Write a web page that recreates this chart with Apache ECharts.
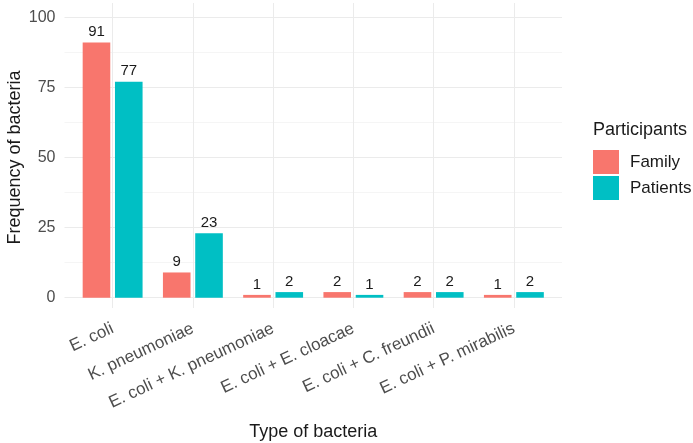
<!DOCTYPE html>
<html>
<head>
<meta charset="utf-8">
<script src="https://cdn.jsdelivr.net/npm/echarts@6/dist/echarts.min.js"></script>
<style>
html,body{margin:0;padding:0;background:#fff;}
#chart{width:693px;height:443px;}
</style>
</head>
<body>
<div id="chart"></div>
<script>
var categories = ['E. coli', 'K. pneumoniae', 'E. coli + K. pneumoniae', 'E. coli + E. cloacae', 'E. coli + C. freundii', 'E. coli + P. mirabilis'];
var familyValues = [91, 9, 1, 2, 2, 1];
var patientValues = [77, 23, 2, 1, 2, 2];
var seriesNames = ['Family', 'Patients'];
var yTicks = [0, 25, 50, 75, 100];

var FONT = '"Liberation Sans", Arial, sans-serif';
var GRID_COLOR = '#ebebeb';
var chart = echarts.init(document.getElementById('chart'), null, {renderer: 'canvas'});

function barLabel() {
  return {
    show: true,
    position: 'top',
    distance: 3,
    color: '#1a1a1a',
    fontSize: 15,
    fontFamily: FONT
  };
}

chart.setOption({
  backgroundColor: '#ffffff',
  animation: false,
  textStyle: {fontFamily: FONT},
  title: {
    text: 'Participants',
    left: 588,
    top: 116,
    textStyle: {fontSize: 18, fontWeight: 'normal', color: '#1a1a1a', fontFamily: FONT}
  },
  legend: {
    orient: 'vertical',
    left: 588,
    top: 145,
    itemWidth: 26,
    itemHeight: 24,
    itemGap: 2,
    icon: 'rect',
    data: seriesNames,
    textStyle: {fontSize: 17, color: '#1a1a1a', fontFamily: FONT, padding: [0, 0, 0, 6]}
  },
  grid: [
    // main plotting grid (bars, labels, axis texts)
    {left: 72.5, right: 139, top: 17.3, bottom: 145.3, containLabel: false, outerBoundsMode: 'none'},
    // vertical gridlines, extending over the full panel height
    {left: 72.5, right: 139, top: 3, bottom: 135, containLabel: false, outerBoundsMode: 'none'},
    // horizontal gridlines, extending over the full panel width
    {left: 64.5, right: 131, top: 17.3, bottom: 145.3, containLabel: false, outerBoundsMode: 'none'}
  ],
  xAxis: [
    {
      gridIndex: 0,
      type: 'category',
      data: categories,
      name: 'Type of bacteria',
      nameLocation: 'middle',
      nameGap: 125,
      nameTextStyle: {fontSize: 18, color: '#1a1a1a', fontFamily: FONT},
      axisLine: {show: false},
      axisTick: {show: false},
      axisLabel: {
        rotate: 25,
        margin: 30,
        fontSize: 17,
        color: '#4d4d4d',
        fontFamily: FONT,
        interval: 0
      },
      splitLine: {show: false}
    },
    {
      gridIndex: 1,
      type: 'category',
      data: categories,
      axisLine: {show: false},
      axisTick: {show: false, interval: 0},
      axisLabel: {show: false, interval: 0},
      splitLine: {show: true, interval: 0, alignWithLabel: true, lineStyle: {color: GRID_COLOR, width: 1}}
    },
    {
      gridIndex: 2,
      type: 'value',
      min: 0,
      max: 1,
      show: false,
      splitLine: {show: false}
    }
  ],
  yAxis: [
    {
      gridIndex: 0,
      type: 'value',
      min: 0,
      max: 100,
      interval: 25,
      name: 'Frequency of bacteria',
      nameLocation: 'middle',
      nameGap: 48,
      nameMoveOverlap: false,
      nameTextStyle: {fontSize: 18, color: '#1a1a1a', fontFamily: FONT},
      axisLine: {show: false},
      axisTick: {show: false},
      axisLabel: {
        margin: 17,
        fontSize: 16,
        color: '#4d4d4d',
        fontFamily: FONT
      },
      splitLine: {show: false}
    },
    {
      gridIndex: 1,
      type: 'value',
      min: 0,
      max: 1,
      show: false,
      splitLine: {show: false}
    },
    {
      gridIndex: 2,
      type: 'value',
      min: 0,
      max: 100,
      interval: 25,
      axisLine: {show: false},
      axisTick: {show: false},
      axisLabel: {show: false},
      splitLine: {show: true, lineStyle: {color: GRID_COLOR, width: 1}},
      minorTick: {show: false, splitNumber: 2},
      minorSplitLine: {show: true, lineStyle: {color: '#f2f2f2', width: 0.8}}
    }
  ],
  series: [
    {
      name: seriesNames[0],
      type: 'bar',
      xAxisIndex: 0,
      yAxisIndex: 0,
      data: familyValues,
      barWidth: 27.6,
      barGap: '17%',
      itemStyle: {color: '#F8766D'},
      label: barLabel()
    },
    {
      name: seriesNames[1],
      type: 'bar',
      xAxisIndex: 0,
      yAxisIndex: 0,
      data: patientValues,
      barWidth: 27.6,
      barGap: '17%',
      itemStyle: {color: '#00BFC4'},
      label: barLabel()
    }
  ]
});
</script>
</body>
</html>
